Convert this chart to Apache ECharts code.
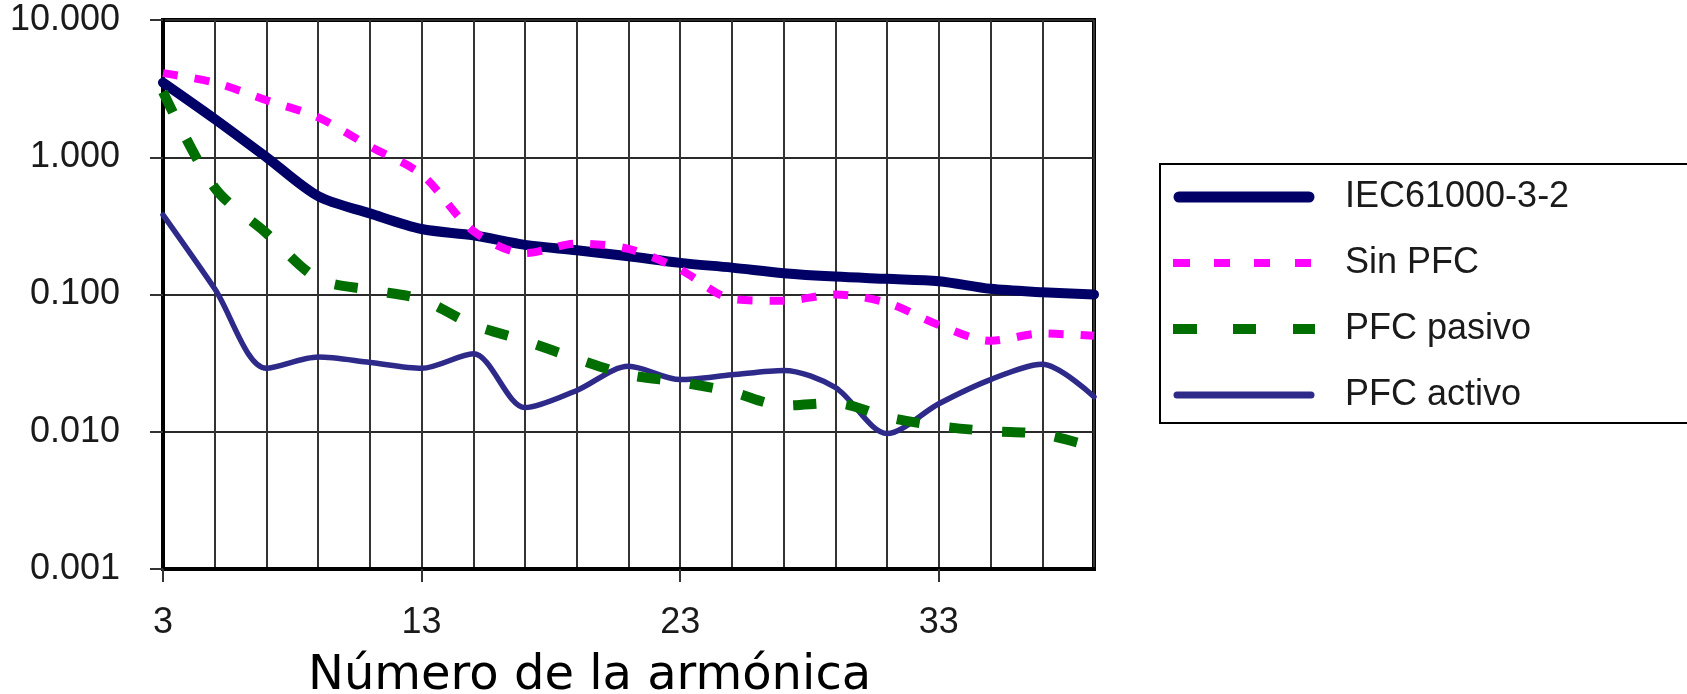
<!DOCTYPE html>
<html>
<head>
<meta charset="utf-8">
<script src="https://cdn.jsdelivr.net/npm/echarts@6/dist/echarts.min.js"></script>
<style>
html,body{margin:0;padding:0;background:#fff;}
#chart{width:1687px;height:694px;}
</style>
</head>
<body>
<div id="chart"></div>
<script>
const harmonics = [3,5,7,9,11,13,15,17,19,21,23,25,27,29,31,33,35,37,39];
const seriesNames = ['IEC61000-3-2','Sin PFC','PFC pasivo','PFC activo'];
const iec    = [3.5,1.9,1.0,0.52,0.39,0.30,0.27,0.23,0.21,0.19,0.17,0.157,0.143,0.135,0.13,0.125,0.11,0.104,0.10];
const sinPfc = [4.1,3.5,2.6,1.95,1.2,0.75,0.29,0.20,0.235,0.215,0.152,0.093,0.09,0.10,0.087,0.06,0.046,0.052,0.05];
const pasivo = [3.0,0.6,0.28,0.13,0.108,0.092,0.06,0.046,0.034,0.026,0.023,0.0195,0.0155,0.0162,0.0128,0.011,0.0101,0.0096,0.0077];
const activo = [0.38,0.11,0.029,0.035,0.032,0.029,0.037,0.015,0.02,0.03,0.024,0.026,0.028,0.021,0.0097,0.016,0.024,0.031,0.018];
const yTicks = [0.001,0.01,0.1,1,10];
const xTitle = 'Número de la armónica';

// legend sample shapes (142 x 12 box)
const legendIcons = [
  'path://M0,0M142,12M6,0.5h130a5.5,5.5 0 0 1 0,11h-130a5.5,5.5 0 0 1 0,-11z',
  'path://M0,0M142,12M0,2h17v8h-17zM41,2h16v8h-16zM81,2h16v8h-16zM122,2h16v8h-16z',
  'path://M0,0M142,12M0,1h24v10h-24zM60,1h23v10h-23zM120,1h22v10h-22z',
  'path://M0,0M142,12M4,2.5h134a3.5,3.5 0 0 1 0,7h-134a3.5,3.5 0 0 1 0,-7z'
];

const chart = echarts.init(document.getElementById('chart'), null, {renderer:'canvas'});
const labelFont = 'Liberation Sans';
chart.setOption({
  animation:false,
  backgroundColor:'#fff',
  grid:{left:163,right:593,top:20,bottom:125,show:true,borderColor:'#000',borderWidth:4,backgroundColor:'transparent'},
  xAxis:{
    type:'category',
    data:harmonics.map(String),
    boundaryGap:false,
    axisLine:{lineStyle:{color:'#000',width:4}},
    axisTick:{show:true,length:13,interval:4,lineStyle:{color:'#333',width:2}},
    axisLabel:{interval:4,margin:36,fontFamily:labelFont,fontSize:36,color:'#1a1a1a'},
    splitLine:{show:true,interval:0,lineStyle:{color:'#333',width:2}}
  },
  yAxis:{
    type:'log',
    logBase:10,
    min:yTicks[0],
    max:yTicks[yTicks.length-1],
    axisLine:{show:true,lineStyle:{color:'#000',width:4}},
    axisTick:{show:true,length:13,lineStyle:{color:'#333',width:2}},
    axisLabel:{margin:43,fontFamily:labelFont,fontSize:36,color:'#1a1a1a',formatter:v=>Number(v).toFixed(3)},
    splitLine:{show:true,lineStyle:{color:'#2a2a2a',width:2}},
    minorTick:{show:false}
  },
  legend:{
    orient:'vertical',
    left:1160,top:164,
    padding:[15,140,10,13],
    itemGap:30,
    itemWidth:142,
    itemHeight:12,
    borderColor:'#000',
    borderWidth:2,
    backgroundColor:'#fff',
    textStyle:{fontFamily:labelFont,fontSize:36,color:'#1a1a1a',lineHeight:36,padding:[0,0,0,25]},
    data:seriesNames.map((n,i)=>({name:n,icon:legendIcons[i]}))
  },
  graphic:[{
    type:'text',
    left:308,top:653,
    style:{text:xTitle,font:'48px "DejaVu Sans"',fill:'#000'}
  }],
  series:[
    {name:seriesNames[0],type:'line',data:iec,smooth:0.3,symbol:'none',z:3,
     lineStyle:{color:'#000066',width:10,cap:'round',join:'round'},itemStyle:{color:'#000066'}},
    {name:seriesNames[1],type:'line',data:sinPfc,smooth:0.3,symbol:'none',z:5,
     lineStyle:{color:'#ff00ff',width:8,type:[15,17]},itemStyle:{color:'#ff00ff'}},
    {name:seriesNames[2],type:'line',data:pasivo,smooth:0.3,symbol:'none',z:4,
     lineStyle:{color:'#006e00',width:10,type:[23,30]},itemStyle:{color:'#006e00'}},
    {name:seriesNames[3],type:'line',data:activo,smooth:0.3,symbol:'none',z:2,
     lineStyle:{color:'#2e2a8a',width:5.5,cap:'round',join:'round'},itemStyle:{color:'#2e2a8a'}}
  ]
});
</script>
</body>
</html>
